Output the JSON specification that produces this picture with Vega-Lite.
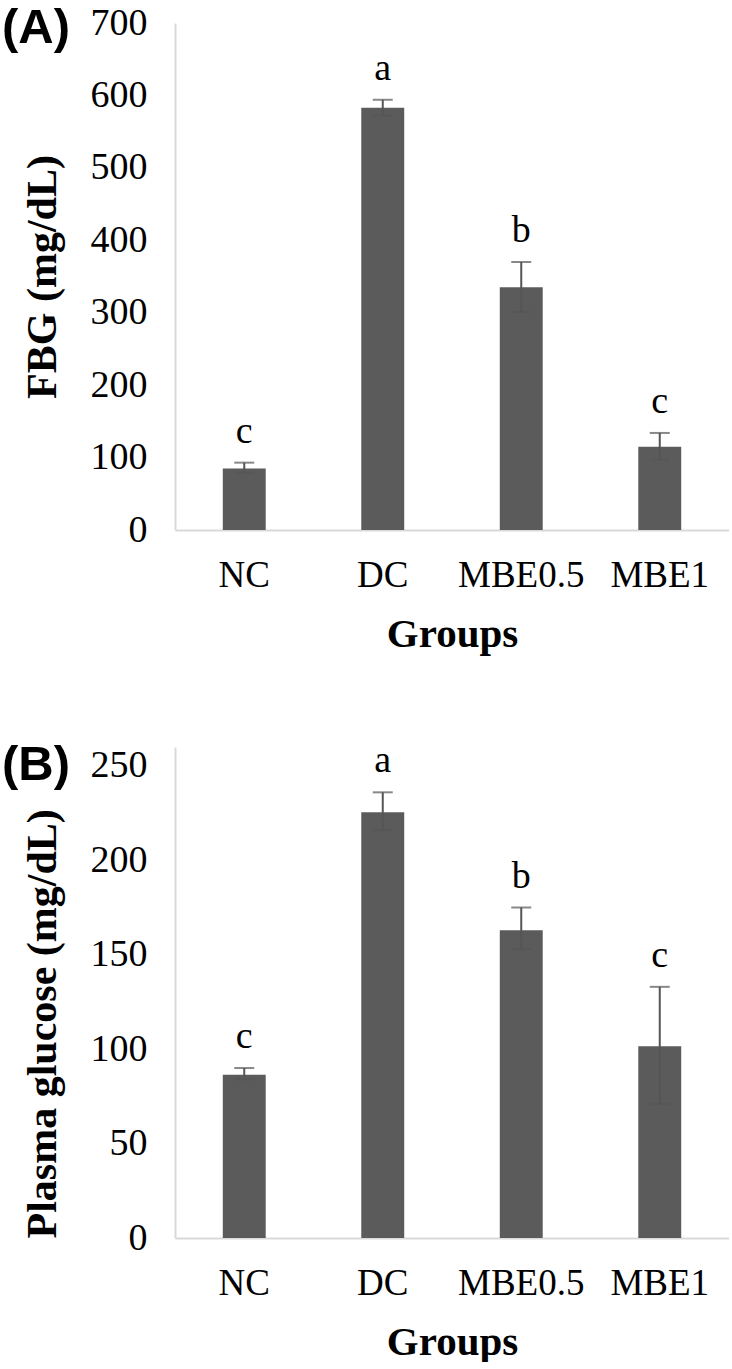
{
  "$schema": "https://vega.github.io/schema/vega-lite/v6.json",
  "padding": {"top": 4, "left": 2, "right": 0, "bottom": 0},
  "background": "white",
  "bounds": "flush",
  "align": "all",
  "spacing": 217,
  "config": {
    "view": {"stroke": null},
    "axis": {"grid": false, "domainColor": "#d9d9d9", "domainWidth": 2, "ticks": false, "tickSize": 0, "labelFont": "Liberation Serif", "labelColor": "black", "titleFont": "Liberation Serif", "titleFontWeight": "bold", "titleColor": "black"}
  },
  "datasets": {
    "fbg": [
      {"group": "NC", "mean": 85, "lo": 79, "hi": 93, "letter": "c"},
      {"group": "DC", "mean": 583, "lo": 572, "hi": 594, "letter": "a"},
      {"group": "MBE0.5", "mean": 335, "lo": 301, "hi": 370, "letter": "b"},
      {"group": "MBE1", "mean": 115, "lo": 97, "hi": 134, "letter": "c"}
    ],
    "pg": [
      {"group": "NC", "mean": 86.5, "lo": 84, "hi": 90, "letter": "c"},
      {"group": "DC", "mean": 225.5, "lo": 216, "hi": 236, "letter": "a"},
      {"group": "MBE0.5", "mean": 163, "lo": 153, "hi": 175, "letter": "b"},
      {"group": "MBE1", "mean": 101.5, "lo": 71, "hi": 133, "letter": "c"}
    ]
  },
  "vconcat": [
    {
      "width": 554,
      "height": 507,
      "title": {"text": "(A)", "anchor": "start", "frame": "group", "orient": "top", "align": "left", "baseline": "middle", "offset": 0, "dx": -173, "dy": 73, "font": "Liberation Sans", "fontWeight": "bold", "fontSize": 49, "color": "black"},
      "data": {"name": "fbg"},
      "encoding": {
        "x": {"field": "group", "type": "nominal", "sort": null, "scale": {"paddingInner": 0.69, "paddingOuter": 0.345}, "axis": {"title": "Groups", "labelAngle": 0, "labelFontSize": 37, "labelPadding": 27, "titleFontSize": 41, "titlePadding": 21}}
      },
      "layer": [
        {"mark": {"type": "bar", "color": "#5b5b5b"}, "encoding": {"y": {"field": "mean", "type": "quantitative", "title": "FBG (mg/dL)", "scale": {"domain": [0, 700]}, "axis": {"values": [0, 100, 200, 300, 400, 500, 600, 700], "labelFontSize": 38, "labelPadding": 28, "titleFontSize": 42, "titlePadding": 26}}}},
        {"mark": {"type": "rule", "color": "#555555", "strokeWidth": 2}, "encoding": {"y": {"field": "lo", "type": "quantitative", "title": "FBG (mg/dL)"}, "y2": {"field": "hi"}}},
        {"mark": {"type": "tick", "color": "#555555", "size": 20, "thickness": 2}, "encoding": {"y": {"field": "hi", "type": "quantitative", "title": "FBG (mg/dL)"}}},
        {"mark": {"type": "tick", "color": "#555555", "size": 20, "thickness": 2}, "encoding": {"y": {"field": "lo", "type": "quantitative", "title": "FBG (mg/dL)"}}},
        {"mark": {"type": "text", "font": "Liberation Serif", "fontSize": 38, "baseline": "alphabetic", "dy": -20, "color": "black"}, "encoding": {"y": {"field": "hi", "type": "quantitative", "title": "FBG (mg/dL)"}, "text": {"field": "letter"}}}
      ]
    },
    {
      "width": 554,
      "height": 491,
      "title": {"text": "(B)", "anchor": "start", "frame": "group", "orient": "top", "align": "left", "baseline": "middle", "offset": 0, "dx": -173, "dy": 72, "font": "Liberation Sans", "fontWeight": "bold", "fontSize": 49, "color": "black"},
      "data": {"name": "pg"},
      "encoding": {
        "x": {"field": "group", "type": "nominal", "sort": null, "scale": {"paddingInner": 0.69, "paddingOuter": 0.345}, "axis": {"title": "Groups", "labelAngle": 0, "labelFontSize": 37, "labelPadding": 27, "titleFontSize": 41, "titlePadding": 21}}
      },
      "layer": [
        {"mark": {"type": "bar", "color": "#5b5b5b"}, "encoding": {"y": {"field": "mean", "type": "quantitative", "title": "Plasma glucose (mg/dL)", "scale": {"domain": [0, 250]}, "axis": {"values": [0, 50, 100, 150, 200, 250], "labelFontSize": 38, "labelPadding": 28, "titleFontSize": 42, "titlePadding": 26, "titleAnchor": "start"}}}},
        {"mark": {"type": "rule", "color": "#555555", "strokeWidth": 2}, "encoding": {"y": {"field": "lo", "type": "quantitative", "title": "Plasma glucose (mg/dL)"}, "y2": {"field": "hi"}}},
        {"mark": {"type": "tick", "color": "#555555", "size": 20, "thickness": 2}, "encoding": {"y": {"field": "hi", "type": "quantitative", "title": "Plasma glucose (mg/dL)"}}},
        {"mark": {"type": "tick", "color": "#555555", "size": 20, "thickness": 2}, "encoding": {"y": {"field": "lo", "type": "quantitative", "title": "Plasma glucose (mg/dL)"}}},
        {"mark": {"type": "text", "font": "Liberation Serif", "fontSize": 38, "baseline": "alphabetic", "dy": -20, "color": "black"}, "encoding": {"y": {"field": "hi", "type": "quantitative", "title": "Plasma glucose (mg/dL)"}, "text": {"field": "letter"}}}
      ]
    }
  ]
}
